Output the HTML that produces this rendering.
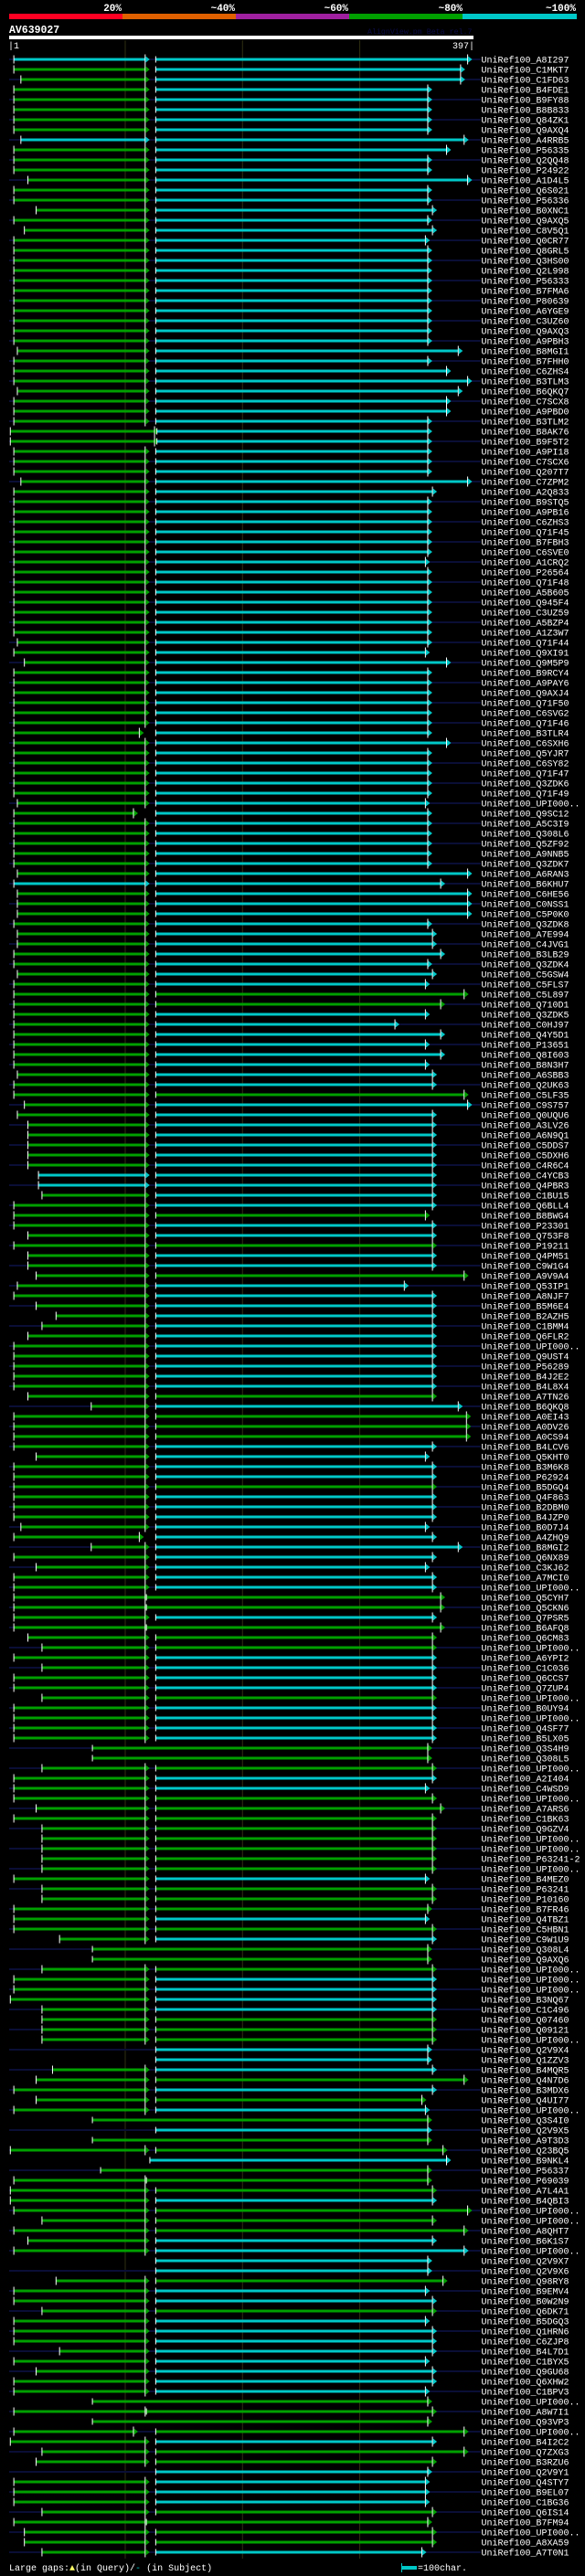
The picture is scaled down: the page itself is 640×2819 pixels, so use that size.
<!DOCTYPE html>
<html><head><meta charset="utf-8"><title>AV639027 alignment</title>
<style>
html,body{margin:0;padding:0;background:#000;}
svg{display:block;}
text{font-family:"Liberation Mono",monospace;}
</style></head>
<body>
<svg id="chart" width="640" height="2819" viewBox="0 0 640 2819" xmlns="http://www.w3.org/2000/svg">
<rect x="0" y="0" width="640" height="2819" fill="#000"/>
<g>
<rect x="10" y="15" width="124" height="6" fill="#ff0022"/>
<rect x="134" y="15" width="124" height="6" fill="#e06000"/>
<rect x="258" y="15" width="124" height="6" fill="#a020a0"/>
<rect x="382" y="15" width="124" height="6" fill="#00a000"/>
<rect x="506" y="15" width="125" height="6" fill="#00c8c8"/>
<g font-size="11" font-weight="bold" fill="#fff" text-anchor="end">
<text x="133" y="12">20%</text>
<text x="257" y="12">~40%</text>
<text x="381" y="12">~60%</text>
<text x="506" y="12">~80%</text>
<text x="630" y="12">~100%</text>
</g>
</g>
<text x="10" y="36" font-size="11.5" font-weight="bold" fill="#fff">AV639027</text>
<text x="402" y="37" font-size="8.3" fill="#0c0c48">AlignView.pm Beta rel.7</text>
<rect x="10" y="39" width="508" height="4" fill="#fff"/>
<text x="9" y="53" font-size="10" fill="#fff">|1</text>
<text x="519" y="53" font-size="10" fill="#fff" text-anchor="end">397|</text>
<g id="grid"></g>
<g id="rows"></g>
<g>
<text x="10" y="2813" font-size="10" fill="#fff">Large gaps:<tspan fill="#ffff66">▲</tspan>(in Query)/<tspan fill="#00c8c8">-</tspan> (in Subject)</text>
<rect x="439" y="2808" width="17" height="4" fill="#00c8c8"/>
<rect x="439" y="2805" width="1" height="10" fill="#00c8c8"/>
<text x="457" y="2813" font-size="10" fill="#fff">=100char.</text>
</g>
</svg>
<script>
const queryLength = [1, 397];
const gridTicks = [100, 200, 300];
const names = ["A8I297","C1MKT7","C1FD63","B4FDE1","B9FY88","B8B833","Q84ZK1","Q9AXQ4","A4RRB5","P56335",
"Q2QQ48","P24922","A1D4L5","Q6S021","P56336","B0XNC1","Q9AXQ5","C8V5Q1","Q0CR77","Q8GRL5",
"Q3HS00","Q2L998","P56333","B7FMA6","P80639","A6YGE9","C3UZ60","Q9AXQ3","A9PBH3","B8MGI1",
"B7FHH0","C6ZHS4","B3TLM3","B6QKQ7","C7SCX8","A9PBD0","B3TLM2","B8AK76","B9F5T2","A9PI18",
"C7SCX6","Q207T7","C7ZPM2","A2Q833","B9STQ5","A9PB16","C6ZHS3","Q71F45","B7FBH3","C6SVE0",
"A1CRQ2","P26564","Q71F48","A5B605","Q945F4","C3UZ59","A5BZP4","A1Z3W7","Q71F44","Q9XI91",
"Q9M5P9","B9RCY4","A9PAY6","Q9AXJ4","Q71F50","C6SVG2","Q71F46","B3TLR4","C6SXH6","Q5YJR7",
"C6SY82","Q71F47","Q3ZDK6","Q71F49","UPI000..","Q9SC12","A5C3I9","Q308L6","Q5ZF92","A9NNB5",
"Q3ZDK7","A6RAN3","B6KHU7","C6HE56","C0NSS1","C5P0K0","Q3ZDK8","A7E994","C4JVG1","B3LB29",
"Q3ZDK4","C5GSW4","C5FLS7","C5L897","Q710D1","Q3ZDK5","C0HJ97","Q4Y5D1","P13651","Q8I603",
"B8N3H7","A6SBB3","Q2UK63","C5LF35","C9S757","Q0UQU6","A3LV26","A6N9Q1","C5DDS7","C5DXH6",
"C4R6C4","C4YCB3","Q4PBR3","C1BU15","Q6BLL4","B8BWG4","P23301","Q753F8","P19211","Q4PM51",
"C9W1G4","A9V9A4","Q53IP1","A8NJF7","B5M6E4","B2AZH5","C1BMM4","Q6FLR2","UPI000..","Q9UST4",
"P56289","B4J2E2","B4L8X4","A7TN26","B6QKQ8","A0EI43","A0DV26","A0CS94","B4LCV6","Q5KHT0",
"B3M6K8","P62924","B5DGQ4","Q4F863","B2DBM0","B4JZP0","B0D7J4","A4ZHQ9","B8MGI2","Q6NX89",
"C3KJ62","A7MCI0","UPI000..","Q5CYH7","Q5CKN6","Q7PSR5","B6AFQ8","Q6CM83","UPI000..","A6YPI2",
"C1C036","Q6CCS7","Q7ZUP4","UPI000..","B0UY94","UPI000..","Q4SF77","B5LX05","Q3S4H9","Q308L5",
"UPI000..","A2I404","C4WSD9","UPI000..","A7ARS6","C1BK63","Q9GZV4","UPI000..","UPI000..","P63241-2",
"UPI000..","B4MEZ0","P63241","P10160","B7FR46","Q4TBZ1","C5HBN1","C9W1U9","Q308L4","Q9AXQ6",
"UPI000..","UPI000..","UPI000..","B3NQ67","C1C496","Q07460","Q09121","UPI000..","Q2V9X4","Q1ZZV3",
"B4MQR5","Q4N7D6","B3MDX6","Q4UI77","UPI000..","Q3S4I0","Q2V9X5","A9T3D3","Q23BQ5","B9NKL4",
"P56337","P69039","A7L4A1","B4QBI3","UPI000..","UPI000..","A8QHT7","B6K1S7","UPI000..","Q2V9X7",
"Q2V9X6","Q98RY8","B9EMV4","B0W2N9","Q6DK71","B5DGQ3","Q1HRN6","C6ZJP8","B4L7D1","C1BYX5",
"Q9GU68","Q6XHW2","C1BPV3","UPI000..","A8W7I1","Q93VP3","UPI000..","B4I2C2","Q7ZXG3","B3RZU6",
"Q2V9Y1","Q4STY7","B9EL07","C1BG36","Q6IS14","B7FM94","UPI000..","A8XA59","A7T0N1"];
const segAStart = [5,5,11,5,5,5,5,5,11,5,
5,5,17,5,5,24,5,14,5,5,
5,5,5,5,5,5,5,5,5,8,
5,5,5,8,5,5,5,2,2,5,
5,5,11,5,5,5,5,5,5,5,
5,5,5,5,5,5,5,5,8,5,
14,5,5,5,5,5,5,5,5,5,
5,5,5,5,8,5,5,5,5,5,
5,8,5,8,8,8,5,8,8,5,
5,8,5,5,5,5,5,5,5,5,
5,8,5,5,14,8,17,17,17,17,
17,26,26,29,5,5,5,17,5,17,
17,24,8,5,24,41,29,17,5,5,
5,5,5,17,71,5,5,5,5,24,
5,5,5,5,5,5,11,5,71,5,
24,5,5,5,5,5,5,17,29,5,
29,5,5,29,5,5,5,5,0,0,
29,5,5,5,24,5,29,29,29,29,
29,5,29,29,5,5,5,44,0,0,
29,5,5,2,29,29,29,29,0,0,
38,24,5,24,5,0,0,0,2,0,
0,5,2,2,5,29,5,17,5,0,
0,41,5,5,29,5,5,5,44,5,
24,5,5,0,5,0,5,2,29,24,
0,5,5,5,29,5,14,14,29];
const segAEnd = [117,117,117,117,117,117,117,117,117,117,
117,117,117,117,117,117,117,117,117,117,
117,117,117,117,117,117,117,117,117,117,
117,117,117,117,117,117,117,125,125,117,
117,117,117,117,117,117,117,117,117,117,
117,117,117,117,117,117,117,117,117,117,
117,117,117,117,117,117,117,112,117,117,
117,117,117,117,117,107,117,117,117,117,
117,117,117,117,117,117,117,117,117,117,
117,117,117,117,117,117,117,117,117,117,
117,117,117,117,117,117,117,117,117,117,
117,117,117,117,117,117,117,117,117,117,
117,117,117,117,117,117,117,117,117,117,
117,117,117,117,117,117,117,117,117,117,
117,117,117,117,117,117,117,112,117,117,
117,117,117,117,117,117,117,117,117,117,
117,117,117,117,117,117,117,117,117,117,
117,117,117,117,117,117,117,117,117,117,
117,117,117,117,117,117,117,117,117,117,
117,117,117,117,117,117,117,117,117,117,
117,117,117,117,117,117,117,117,117,117,
117,117,117,117,117,117,117,117,117,117,
117,117,117,117,117,117,117,117,117,117,
117,117,117,117,117,117,107,117,117,117,
117,117,117,117,117,117,117,117,117];
const segAColor = ("cgggggggcg"+"gggggggggg"+"gggggggggg"+"gggggggggg"+"gggggggggg"+
"gggggggggg"+"gggggggggg"+"gggggggggg"+"ggcggggggg"+"gggggggggg"+
"gggggggggg"+"gccggggggg"+"gggggggggg"+"gggggggggg"+"gggggggggg"+
"gggggggggg"+"gggggggggg"+"gggggggggg"+"gggggggggg"+"gggggggggg"+
"gggggggggg"+"gggggggggg"+"gggggggggg"+"gggggggggg"+"ggggggggg").split("");
const segBStart = [126,126,126,126,126,126,126,126,126,126,
126,126,126,126,126,126,126,126,126,126,
126,126,126,126,126,126,126,126,126,126,
126,126,126,126,126,126,126,127,127,126,
126,126,126,126,126,126,126,126,126,126,
126,126,126,126,126,126,126,126,126,126,
126,126,126,126,126,126,126,126,126,126,
126,126,126,126,126,126,126,126,126,126,
126,126,126,126,126,126,126,126,126,126,
126,126,126,126,126,126,126,126,126,126,
126,126,126,126,126,126,126,126,126,126,
126,126,126,126,126,126,126,126,126,126,
126,126,126,126,126,126,126,126,126,126,
126,126,126,126,126,126,126,126,126,126,
126,126,126,126,126,126,126,126,126,126,
126,126,126,118,118,126,118,126,126,126,
126,126,126,126,126,126,126,126,72,72,
126,126,126,126,126,126,126,126,126,126,
126,126,126,126,126,126,126,126,72,72,
126,126,126,126,126,126,126,126,126,126,
126,126,126,126,126,72,126,72,126,121,
79,118,126,126,126,126,126,126,126,126,
126,126,126,126,126,126,126,126,126,126,
126,126,126,72,118,72,126,126,126,126,
126,126,126,126,126,118,126,126,126];
const segBEnd = [392,386,386,358,358,358,358,358,389,374,
358,358,392,358,358,362,358,362,356,358,
358,358,358,358,358,358,358,358,358,384,
358,374,392,384,374,374,358,358,358,358,
358,358,392,362,358,358,358,358,358,358,
356,358,358,358,358,358,358,358,358,356,
374,358,358,358,358,358,358,358,374,358,
358,358,358,358,356,358,358,358,358,358,
358,392,369,392,392,392,358,362,362,369,
358,362,356,389,369,356,330,369,356,369,
356,362,362,389,392,362,362,362,362,362,
362,362,362,362,362,356,362,362,362,362,
362,389,338,362,362,362,362,362,362,362,
362,362,362,362,384,391,391,391,362,356,
362,362,362,362,362,362,356,362,384,362,
356,362,362,369,369,362,369,362,362,362,
362,362,362,362,362,362,362,362,358,358,
362,362,356,362,369,362,362,362,362,362,
362,356,362,362,358,356,362,362,358,358,
362,362,362,362,362,362,362,362,358,358,
362,389,362,353,356,358,358,358,371,374,
358,358,362,362,392,362,389,362,389,358,
358,371,356,362,362,356,362,362,362,356,
362,362,356,358,362,358,389,362,389,362,
358,356,356,356,362,358,362,362,353];
const segBColor = ("cccccccccc"+"cccccccccc"+"cccccccccc"+"cccccccccc"+"cccccccccc"+
"cccccccccc"+"cccccccccc"+"cccccccccc"+"cccccccccc"+"cccggccccc"+
"cccgcccccc"+"cccccgccgc"+"cgcccccccc"+"cccgcgggcc"+"ccgccccccc"+
"cccggcgggc"+"cccgccccgg"+"gccggggggg"+"gcgggcgcgg"+"gccccgggcc"+
"cgcgcgcggc"+"gggcgggccc"+"cgccgccccc"+"cccggggcgg"+"ccccggggc").split("");

const NS = "http://www.w3.org/2000/svg";
const COLORS = {g: "#00a000", c: "#00c8c8"};
const X0 = 10, X1 = 518, ROW0 = 65, ROWH = 11;
function xScale(q){ return X0 + (q - queryLength[0]) * (X1 - X0) / (queryLength[1] - queryLength[0]); }
function yRow(i){ return ROW0 + i * ROWH; }
function mk(tag, attrs, parent){
  const el = document.createElementNS(NS, tag);
  for (const k in attrs) el.setAttribute(k, attrs[k]);
  parent.appendChild(el);
  return el;
}
const grid = document.getElementById("grid");
gridTicks.forEach(function(t){
  const g = mk("rect", {x: xScale(t) - 0.5, y: 44, width: 1, height: 2756, fill: "#2e2e12"}, grid);
  
  
});
const rows = document.getElementById("rows");
function drawSeg(g, s, e, col, y, startTickH){
  const xs = xScale(s), xe = xScale(e);
  const bar = mk("rect", {x: xs, y: y - 1.5, width: Math.max(0, xe - xs), height: 3, fill: COLORS[col]}, g);
  
  
  const st = mk("rect", {x: xs - 0.5, y: y - startTickH / 2, width: 1, height: startTickH, fill: "#fff"}, g);
  
  
  const et = mk("rect", {x: xe - 0.5, y: y - 5.5, width: 1, height: 11, fill: "#fff"}, g);
  
  
  const ar = mk("polygon", {points: (xe + 0.5) + "," + (y - 3.5) + " " + (xe + 5) + "," + y + " " + (xe + 0.5) + "," + (y + 3.5), fill: COLORS[col]}, g);
  
  
}
names.forEach(function(nm, i){
  const y = yRow(i);
  const g = mk("g", {}, rows);
  
  
  if (i % 2 === 0) {
    const band = mk("rect", {x: 10, y: y - 1, width: 516, height: 2, fill: "#0a0e36"}, g);
    
    
  }
  if (segAStart[i] > 0) drawSeg(g, segAStart[i], segAEnd[i], segAColor[i], y, 9);
  drawSeg(g, segBStart[i], segBEnd[i], segBColor[i], y, 7);
  const t = mk("text", {x: 526.5, y: y + 3.5, "font-size": 10, fill: "#fff"}, g);
  
  
  t.textContent = "UniRef100_" + nm;
});
</script>
</body></html>
